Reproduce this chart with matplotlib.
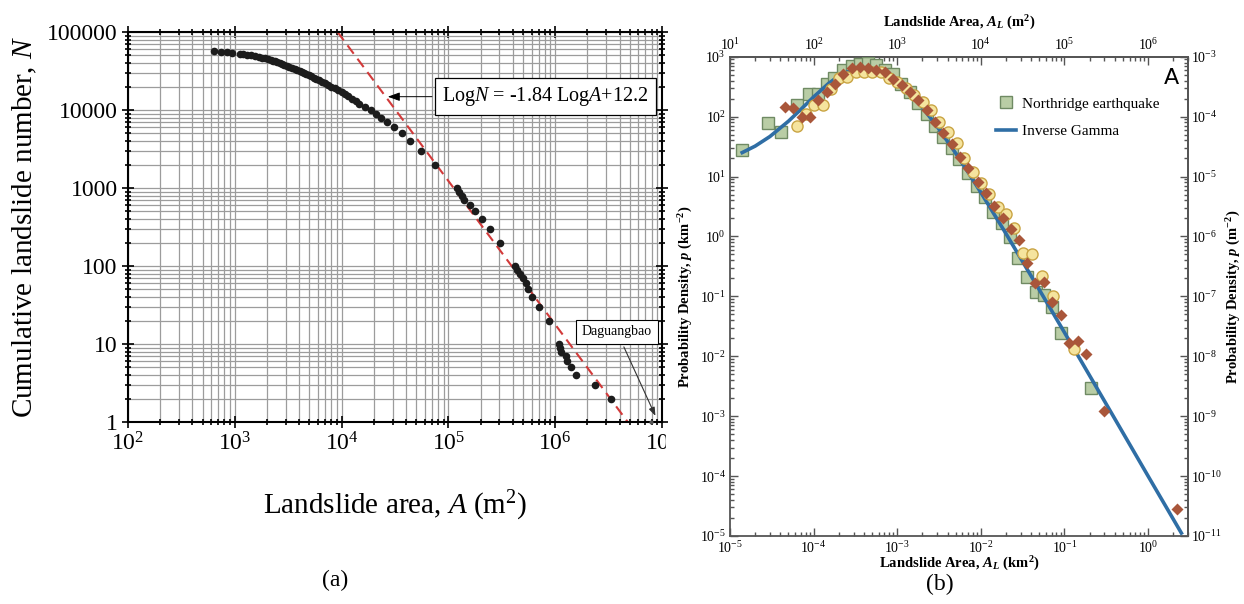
import matplotlib

matplotlib.use("Agg")

import matplotlib.pyplot as plt
import numpy as np
from matplotlib.lines import Line2D
from matplotlib.patches import Rectangle
from matplotlib.ticker import FuncFormatter, LogLocator, NullFormatter

plt.rcParams["font.family"] = ["Liberation Serif", "DejaVu Serif"]
plt.rcParams["mathtext.fontset"] = "custom"
plt.rcParams["mathtext.rm"] = "Liberation Serif"
plt.rcParams["mathtext.it"] = "Liberation Serif:italic"
plt.rcParams["mathtext.bf"] = "Liberation Serif:bold"
plt.rcParams["mathtext.bfit"] = "Liberation Serif:italic:bold"

# ---- (a) cumulative landslide number vs area ----
cum_number = [
    57000, 56000, 55000, 54000, 53000, 52000, 51000, 50000, 49000, 48000,
    47000, 46000, 45000, 44000, 43000, 42000, 41000, 40000, 39000, 38000,
    37000, 36000, 35000, 34000, 33000, 32000, 31000, 30000, 29000, 28000,
    27000, 26000, 25000, 24000, 23000, 22000, 21000, 20000, 19000, 18000,
    17000, 16000, 15000, 14000, 13000, 12000, 11000, 10000,
    9000, 8000, 7000, 6000, 5000, 4000, 3000, 2000,
    1000, 900, 800, 700, 600, 500, 400, 300, 200, 100,
    90, 80, 70, 60, 50, 40, 30, 20, 10,
    9, 8, 7, 6, 5, 4, 3, 2,
]
cum_area = [
    643, 743, 839, 935, 1110, 1200, 1300, 1420, 1550, 1680,
    1790, 1930, 2040, 2180, 2300, 2400, 2510, 2640, 2770, 2910,
    3070, 3250, 3430, 3630, 3830, 4040, 4240, 4440, 4670, 4910,
    5180, 5470, 5790, 6150, 6540, 7000, 7480, 8020, 8630, 9330,
    10000, 10700, 11600, 12600, 13500, 14600, 16600, 18700,
    20800, 23400, 26800, 31100, 36600, 44000, 55300, 75300,
    119400, 126200, 133000, 141000, 159200, 178600, 205100, 243800, 302000, 420700,
    442600, 463400, 494300, 527200, 553300, 602600, 709600, 881000, 1091000,
    1109000, 1133000, 1259000, 1279000, 1406000, 1567000, 2344000, 3310000,
]
daguangbao_area = 7.83e6
daguangbao_number = 1

FIT_SLOPE = 1.84
FIT_INTERCEPT = 12.29
fit_number = [1e5, 1.0]

# ---- (b) probability density vs landslide area (km^2) ----
northridge_area = [
    1.38e-5, 2.82e-5, 4.04e-5, 6.32e-5, 8.89e-5, 1.14e-4, 1.44e-4, 1.75e-4,
    2.27e-4, 2.86e-4, 3.59e-4, 4.44e-4, 5.57e-4, 7.14e-4, 8.98e-4, 1.12e-3,
    1.42e-3, 1.79e-3, 2.25e-3, 2.86e-3, 3.56e-3, 4.49e-3, 5.53e-3, 6.97e-3,
    9.08e-3, 1.12e-2, 1.41e-2, 1.78e-2, 2.23e-2, 2.81e-2, 3.57e-2, 4.51e-2,
    5.73e-2, 7.06e-2, 8.97e-2, 0.205,
]
northridge_density = [
    27.7, 77.3, 54.7, 156, 236, 236, 346, 436,
    600, 708, 747, 776, 727, 600, 508, 350,
    258, 169, 109, 69.7, 46.2, 29.6, 19.4, 11.3,
    6.93, 4.50, 2.53, 1.66, 0.989, 0.431, 0.212, 0.120,
    0.105, 0.0670, 0.0244, 2.94e-3,
]

diamond_area = [
    4.55e-5, 5.71e-5, 7.21e-5, 9.06e-5, 1.14e-4, 1.44e-4, 1.80e-4, 2.27e-4,
    2.86e-4, 3.59e-4, 4.44e-4, 5.57e-4, 7.14e-4, 8.98e-4, 1.14e-3, 1.42e-3,
    1.79e-3, 2.25e-3, 2.86e-3, 3.56e-3, 4.49e-3, 5.64e-3, 7.08e-3, 9.33e-3,
    1.15e-2, 1.45e-2, 1.83e-2, 2.30e-2, 2.86e-2, 3.54e-2, 4.48e-2, 5.73e-2,
    7.14e-2, 9.10e-2, 0.1135, 0.1445, 0.182, 0.299, 2.22,
]
diamond_density = [
    146, 141, 100, 100, 186, 258, 350, 514,
    640, 686, 640, 600, 549, 425, 337, 261,
    189, 129, 82.2, 52.6, 34.5, 21.4, 13.7, 8.19,
    5.24, 3.22, 2.05, 1.31, 0.871, 0.364, 0.164, 0.171,
    0.0804, 0.0493, 0.0166, 0.0182, 0.0108, 1.20e-3, 2.84e-5,
]

circle_area = [
    6.32e-5, 8.11e-5, 1.01e-4, 1.28e-4, 1.60e-4, 2.01e-4, 2.53e-4, 3.19e-4,
    4.01e-4, 5.04e-4, 6.35e-4, 7.98e-4, 1.00e-3, 1.26e-3, 1.59e-3, 2.01e-3,
    2.52e-3, 3.19e-3, 4.09e-3, 5.15e-3, 6.30e-3, 8.00e-3, 1.00e-2, 1.26e-2,
    1.59e-2, 2.00e-2, 2.52e-2, 3.23e-2, 4.06e-2, 5.45e-2, 7.26e-2, 0.129,
]
circle_density = [
    71.0, 110, 158, 158, 289, 436, 463, 549,
    562, 549, 549, 436, 374, 297, 229, 177,
    129, 82.2, 56.0, 35.8, 20.1, 12.0, 7.87, 5.10,
    3.06, 2.34, 1.36, 0.535, 0.503, 0.218, 0.101, 0.0130,
]

gamma_area = [
    1.4e-5, 2e-5, 3e-5, 5e-5, 7e-5, 1e-4, 1.5e-4, 2e-4, 3e-4, 4e-4, 5e-4,
    7e-4, 1e-3, 1.5e-3, 2e-3, 3e-3, 5e-3, 7e-3, 1e-2, 2e-2, 5e-2, 0.1,
    0.3, 1.0, 2.5,
]
gamma_density = [
    25.1, 32.2, 46.5, 83.8, 130.8, 213, 355, 476, 617, 653, 632,
    532, 382, 224, 142, 68.3, 24.5, 11.9, 5.41, 1.11, 0.129, 0.0249,
    1.80e-3, 1.0e-4, 1.12e-5,
]

W, H = 1244, 604
fig = plt.figure(figsize=(W / 100, H / 100), dpi=100)

# ---------------- panel (a) ----------------
ax = fig.add_axes([128 / W, 1 - 422 / H, 534 / W, 390 / H])
ax.set_xscale("log")
ax.set_yscale("log")
ax.set_xlim(1e2, 1e7)
ax.set_ylim(1, 1e5)
ax.set_axisbelow(True)
ax.grid(True, which="both", color="#9c9c9c", linewidth=0.9)

ax.plot(cum_area, cum_number, "o", color="#1c1c1c", ms=5.5, mec="none", zorder=3)
ax.plot([daguangbao_area], [daguangbao_number], "o", color="#555555", ms=3,
        mec="none", zorder=3, clip_on=False)

fit_area = 10 ** ((FIT_INTERCEPT - np.log10(fit_number)) / FIT_SLOPE)
ax.plot(fit_area, fit_number, color="#d23a3a", lw=1.5, dashes=(5, 3), zorder=2)

ax.xaxis.set_major_locator(LogLocator(base=10, numticks=20))
ax.xaxis.set_minor_locator(LogLocator(base=10, subs=np.arange(2, 10), numticks=20))
ax.yaxis.set_major_locator(LogLocator(base=10, numticks=20))
ax.yaxis.set_minor_locator(LogLocator(base=10, subs=np.arange(2, 10), numticks=20))
ax.yaxis.set_major_formatter(FuncFormatter(lambda v, pos: f"{v:.0f}"))
ax.xaxis.set_minor_formatter(NullFormatter())
ax.yaxis.set_minor_formatter(NullFormatter())
ax.tick_params(which="both", direction="inout", top=True, right=True,
               labelsize=17, width=1.2, color="black")
ax.tick_params(which="major", length=8)
ax.tick_params(which="minor", length=5)
for s in ax.spines.values():
    s.set_linewidth(1.5)

ax.set_xlabel("Landslide area, $A$ (m$^2$)", fontsize=21, labelpad=24)
ax.set_ylabel("Cumulative landslide number, $N$", fontsize=21, labelpad=6)

ax.annotate("Log$N$ = -1.84 Log$A$+12.2", xy=(2.55e4, 1.48e4), xytext=(8.1e5, 1.49e4),
            fontsize=14.5, ha="center", va="center",
            bbox=dict(boxstyle="square,pad=0.35", fc="white", ec="black", lw=0.9),
            arrowprops=dict(arrowstyle="-|>,head_length=0.5,head_width=0.18",
                            color="black", lw=0.7), zorder=5)
ax.annotate("Daguangbao", xy=(8.9e6, 1.11), xytext=(3.79e6, 14.3),
            fontsize=10, ha="center", va="center",
            bbox=dict(boxstyle="square,pad=0.4", fc="white", ec="black", lw=0.8),
            arrowprops=dict(arrowstyle="-|>,head_length=0.5,head_width=0.18",
                            color="#333333", lw=0.8), zorder=5)

# the source panel is cropped right after the 10^7 label starts
fig.patches.append(Rectangle((666 / W, 1 - 470 / H), 14 / W, 45 / H,
                             transform=fig.transFigure, color="white", zorder=1))

fig.text(335 / W, 1 - 580 / H, "(a)", fontsize=17, ha="center", va="center")

# ---------------- panel (b) ----------------
ax2 = fig.add_axes([730 / W, 1 - 536 / H, 458 / W, 479.3 / H])
ax2.set_xscale("log")
ax2.set_yscale("log")
ax2.set_xlim(1e-5, 3.0)
ax2.set_ylim(1e-5, 1e3)

ax2.plot(northridge_area, northridge_density, "s", ms=8, mfc="#b9cda5", mec="#6f8a63",
         mew=1.0, zorder=3)
ax2.plot(gamma_area, gamma_density, "-", color="#2f6ea5", lw=2.6, zorder=4)
ax2.plot(circle_area, circle_density, "o", ms=8, mfc="#f5e49e", mec="#c9a444",
         mew=1.0, zorder=5)
ax2.plot(diamond_area, diamond_density, "D", ms=6, color="#a9563a", mec="none", zorder=6)

handles = [
    Line2D([], [], marker="s", ls="none", ms=8, mfc="#b9cda5", mec="#6f8a63"),
    Line2D([], [], color="#2f6ea5", lw=2.6),
]
ax2.legend(handles, ["Northridge earthquake", "Inverse Gamma"], loc="upper left",
           bbox_to_anchor=(0.55, 0.945), frameon=False, fontsize=11,
           handlelength=1.3, labelspacing=0.9, handletextpad=0.4)

ax2.text(0.963, 0.955, "A", transform=ax2.transAxes, fontsize=16,
         family="DejaVu Sans", ha="center", va="center")

secx = ax2.secondary_xaxis("top", functions=(lambda a: a * 1e6, lambda a: a / 1e6))
secy = ax2.secondary_yaxis("right", functions=(lambda p: p * 1e-6, lambda p: p * 1e6))

for axis in [ax2.xaxis, ax2.yaxis, secx.xaxis, secy.yaxis]:
    axis.set_major_locator(LogLocator(base=10, numticks=20))
    axis.set_minor_locator(LogLocator(base=10, subs=np.arange(2, 10), numticks=20))
    axis.set_minor_formatter(NullFormatter())

for a in [ax2, secx, secy]:
    a.tick_params(which="both", direction="in", labelsize=10, color="#555555",
                  width=1.0, pad=3)
    a.tick_params(which="major", length=6)
    a.tick_params(which="minor", length=3)
secy.tick_params(pad=2)
ax2.tick_params(top=False, right=False)
for s in ax2.spines.values():
    s.set_color("#555555")
    s.set_linewidth(1.3)
for a in [secx, secy]:
    for s in a.spines.values():
        s.set_color("#555555")
        s.set_linewidth(1.3)

ax2.set_xlabel("Landslide Area, $\\mathbfit{A_L}$ (km$^{\\mathbf{2}}$)",
               fontsize=10.5, fontweight="bold", labelpad=-1)
secx.set_xlabel("Landslide Area, $\\mathbfit{A_L}$ (m$^{\\mathbf{2}}$)",
                fontsize=10.5, fontweight="bold", labelpad=7)
ax2.set_ylabel("Probability Density, $\\mathbfit{p}$ (km$^{\\mathbf{-2}}$)",
               fontsize=10.5, fontweight="bold", labelpad=3)
secy.set_ylabel("Probability Density, $\\mathbfit{p}$ (m$^{\\mathbf{-2}}$)",
                fontsize=10.5, fontweight="bold", labelpad=2)

fig.text(940 / W, 1 - 584 / H, "(b)", fontsize=17, ha="center", va="center")

fig.savefig("out.png", dpi=100)
